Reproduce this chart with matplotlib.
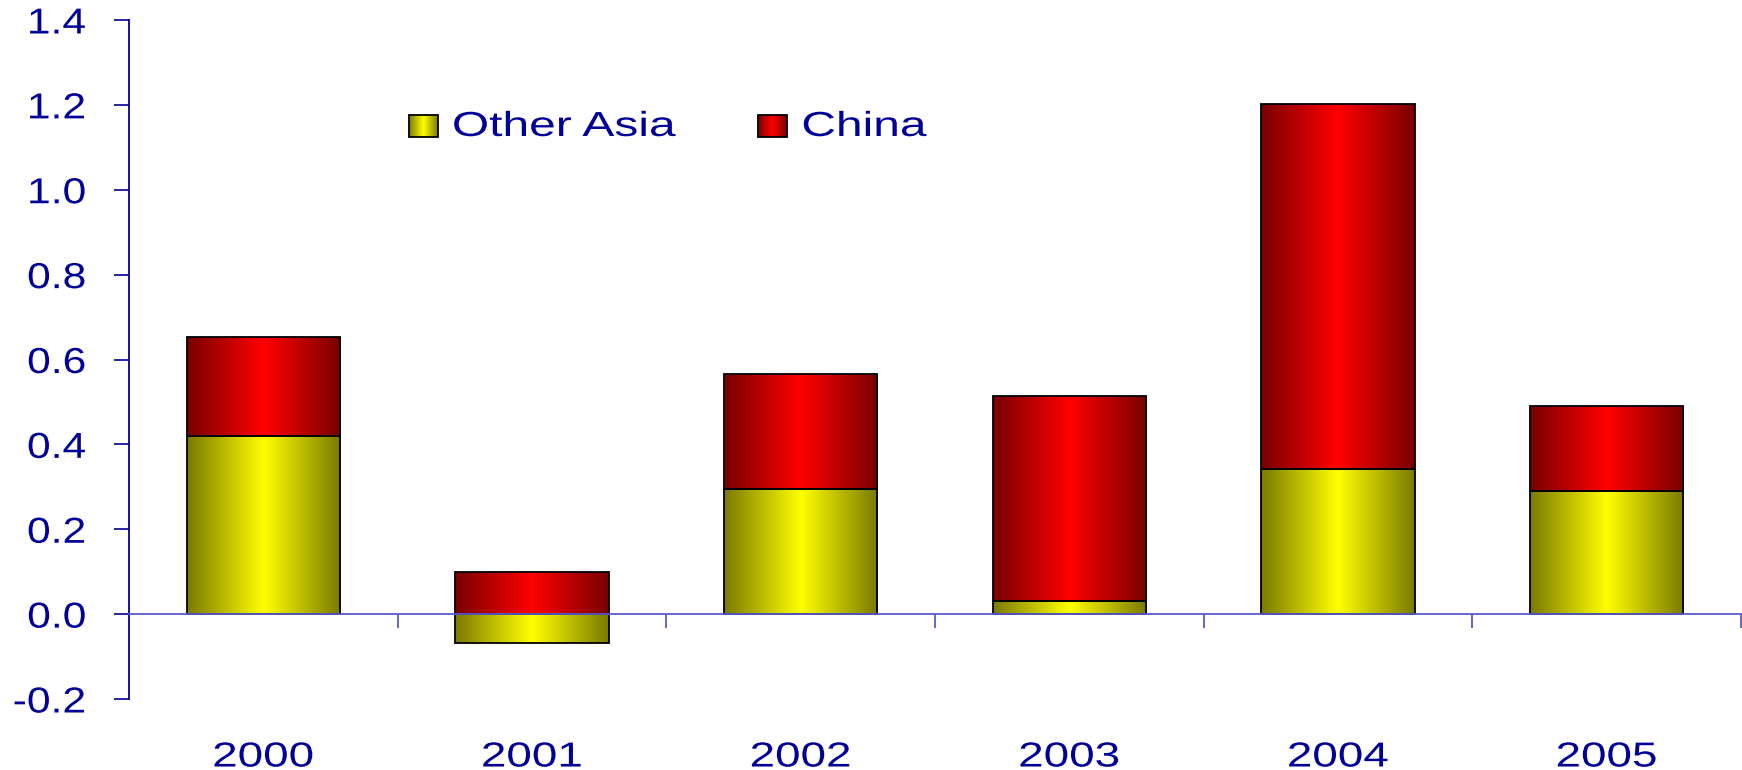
import numpy as np
import matplotlib.pyplot as plt
from matplotlib.colors import LinearSegmentedColormap
from matplotlib.patheffects import AbstractPathEffect
from matplotlib.transforms import Affine2D

years = ['2000', '2001', '2002', '2003', '2004', '2005']
other_asia = [0.42, -0.068, 0.295, 0.03, 0.342, 0.29]
china = [0.233, 0.10, 0.272, 0.485, 0.859, 0.201]

navy = '#000099'
plt.rcParams['font.family'] = ['Liberation Sans', 'DejaVu Sans']


class Stretch(AbstractPathEffect):
    """Widen glyphs horizontally, keeping the given side of the text fixed."""

    def __init__(self, sx, anchor='left'):
        super().__init__()
        self.sx = sx
        self.anchor = anchor

    def draw_path(self, renderer, gc, tpath, affine, rgbFace=None):
        ext = tpath.get_extents(affine)
        x0 = {'left': ext.x0, 'right': ext.x1, 'center': (ext.x0 + ext.x1) / 2}[self.anchor]
        t = affine + Affine2D().translate(-x0, 0).scale(self.sx, 1).translate(x0, 0)
        renderer.draw_path(gc, tpath, t, rgbFace)


# dark edges, bright centre, like a cylinder
yellow_cm = LinearSegmentedColormap.from_list('yel', ['#7a7a00', '#ffff00', '#7a7a00'])
red_cm = LinearSegmentedColormap.from_list('red', ['#780000', '#ff0000', '#780000'])
ramp = np.linspace(0, 1, 256).reshape(1, -1)


def shade(ax, patches, cmap):
    for p in patches:
        x0, y0 = p.get_x(), p.get_y()
        w, h = p.get_width(), p.get_height()
        im = ax.imshow(ramp, cmap=cmap, aspect='auto', interpolation='bicubic',
                       extent=[x0, x0 + w, y0, y0 + h], zorder=2)
        im.set_clip_path(p)


fig = plt.figure(figsize=(17.42, 7.70), dpi=100)
ax = fig.add_axes([129 / 1742, 1 - 699 / 770, (1741 - 129) / 1742, (699 - 20) / 770])

x = np.arange(len(years))
china_base = [max(v, 0) for v in other_asia]

b1 = ax.bar(x, other_asia, width=0.57, facecolor='none', edgecolor='black', lw=1.3, zorder=3)
b2 = ax.bar(x, china, width=0.57, bottom=china_base, facecolor='none',
            edgecolor='black', lw=1.3, zorder=3)
shade(ax, b1, yellow_cm)
shade(ax, b2, red_cm)

ax.set_xlim(-0.5, 5.5)
ax.set_ylim(-0.2, 1.4)

# y axis
yt = np.arange(-0.2, 1.41, 0.2)
ax.set_yticks(yt)
ax.set_yticklabels(['%.1f' % v for v in yt])
ax.tick_params(axis='y', direction='out', length=11, width=1.2, color=navy,
               labelcolor=navy, labelsize=26, pad=20)
ax.spines['left'].set_color(navy)
ax.spines['left'].set_linewidth(1.3)
for s in ['top', 'right']:
    ax.spines[s].set_visible(False)

# x axis sits on zero
ax.spines['bottom'].set_position(('data', 0))
ax.spines['bottom'].set_color('#5a5ac8')
ax.spines['bottom'].set_linewidth(1.3)
ax.spines['bottom'].set_zorder(4)
ax.set_xticks(np.arange(0.5, 6, 1))
ax.set_xticklabels([])
ax.tick_params(axis='x', which='major', direction='out', length=10, width=1.3, color='#5a5ac8')
ax.set_xticks(x, minor=True)
ax.set_xticklabels(years, minor=True)
ax.tick_params(axis='x', which='minor', length=0, labelcolor=navy, labelsize=25, pad=91)

for lab in ax.get_yticklabels():
    lab.set_path_effects([Stretch(1.18, 'right')])
for lab in ax.get_xticklabels(minor=True):
    lab.set_path_effects([Stretch(1.32, 'center')])

# legend with shaded swatches
ta = ax.transAxes
sw, sh = 29 / 1612, 22 / 679
sy = 0.827
for sx, label, cmap in [(0.1734, 'Other Asia', yellow_cm), (0.3902, 'China', red_cm)]:
    ax.imshow(ramp, cmap=cmap, aspect='auto', interpolation='bicubic',
              extent=[sx, sx + sw, sy, sy + sh], transform=ta, zorder=5)
    ax.add_patch(plt.Rectangle((sx, sy), sw, sh, transform=ta, fill=False,
                               edgecolor='black', lw=1.3, zorder=6))
    ax.text(sx + sw + 0.0093, sy + sh / 2, label, transform=ta, color=navy,
            fontsize=25, va='center', ha='left',
            path_effects=[Stretch(1.38, 'left')])

ax.set_xlim(-0.5, 5.5)
ax.set_ylim(-0.2, 1.4)

fig.savefig('out.png', dpi=100)
